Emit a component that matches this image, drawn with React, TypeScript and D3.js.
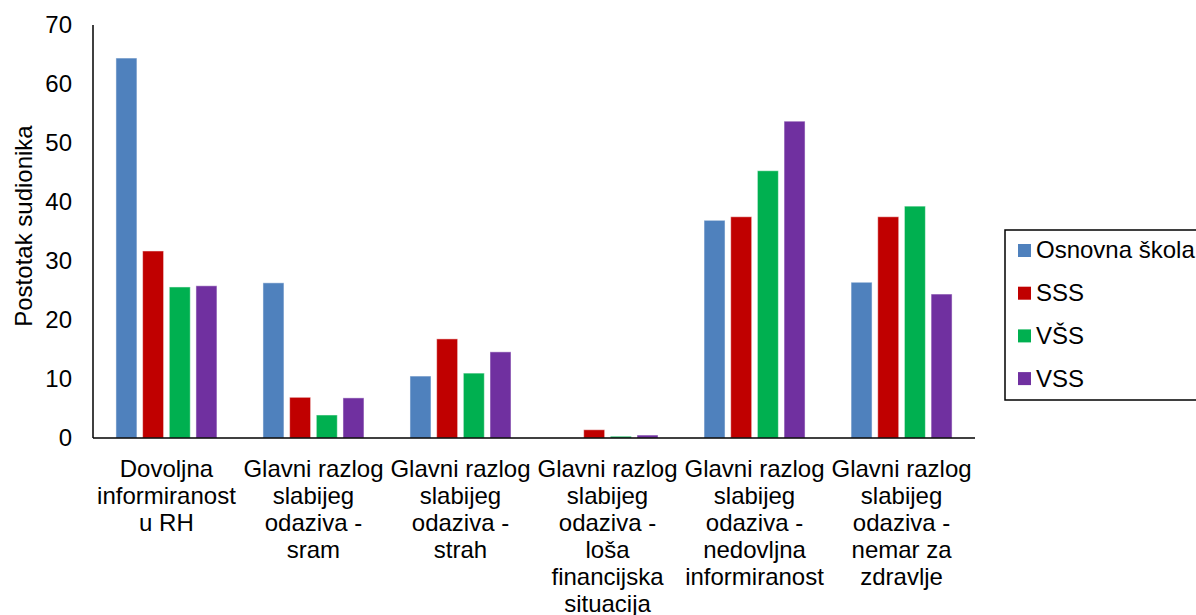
import { useEffect, useRef } from "react"
import * as d3 from "d3"

const categories = [
  ["Dovoljna", "informiranost", "u RH"],
  ["Glavni razlog", "slabijeg", "odaziva -", "sram"],
  ["Glavni razlog", "slabijeg", "odaziva -", "strah"],
  ["Glavni razlog", "slabijeg", "odaziva -", "loša", "financijska", "situacija"],
  ["Glavni razlog", "slabijeg", "odaziva -", "nedovljna", "informiranost"],
  ["Glavni razlog", "slabijeg", "odaziva -", "nemar za", "zdravlje"],
]

const seriesNames = ["Osnovna škola", "SSS", "VŠS", "VSS"]
const seriesColors = ["#4F81BD", "#C00000", "#00B050", "#7030A0"]

const osnovna = [64.4, 26.3, 10.5, 0, 36.9, 26.4]
const sss = [31.7, 6.9, 16.8, 1.4, 37.5, 37.5]
const vss1 = [25.6, 3.9, 11.0, 0.3, 45.3, 39.3]
const vss2 = [25.8, 6.8, 14.6, 0.5, 53.7, 24.4]

const yTicks = [0, 10, 20, 30, 40, 50, 60, 70]

export default function App() {
  const svgRef = useRef<SVGSVGElement>(null)

  useEffect(() => {
    if (!svgRef.current) return
    document.body.style.margin = "0"
    const svg = d3.select(svgRef.current)
    svg.selectAll("*").remove()

    const font = "'Liberation Sans', Arial, sans-serif"
    const fontSize = 24
    const left = 93
    const right = 975
    const top = 25
    const bottom = 438

    const values = [osnovna, sss, vss1, vss2]
    const idx = categories.map((_, i) => i)

    const x0 = d3.scaleBand<number>().domain(idx).range([left, right]).paddingInner(0.313).paddingOuter(0.156)
    const x1 = d3.scaleBand<number>().domain([0, 1, 2, 3]).range([0, x0.bandwidth()]).paddingInner(0.213)
    const y = d3.scaleLinear().domain([0, 70]).range([bottom, top])

    // Bars
    const groups = svg
      .append("g")
      .selectAll("g")
      .data(idx)
      .enter()
      .append("g")
      .attr("transform", (d) => `translate(${x0(d)},0)`)

    groups
      .selectAll("rect")
      .data((c) => values.map((s, si) => ({ si, v: s[c] })))
      .enter()
      .append("rect")
      .attr("x", (d) => x1(d.si)!)
      .attr("y", (d) => y(d.v))
      .attr("width", x1.bandwidth())
      .attr("height", (d) => bottom - y(d.v))
      .attr("fill", (d) => seriesColors[d.si])
      .attr("stroke", "white")
      .attr("stroke-opacity", 0.5)
      .attr("stroke-width", 1)

    // Axes
    svg.append("line").attr("x1", left).attr("x2", left).attr("y1", y(70)).attr("y2", bottom).attr("stroke", "#000").attr("stroke-width", 1.5)
    svg.append("line").attr("x1", left).attr("x2", right).attr("y1", bottom).attr("y2", bottom).attr("stroke", "#000").attr("stroke-width", 1.5)

    // Y tick labels
    svg
      .append("g")
      .selectAll("text")
      .data(yTicks)
      .enter()
      .append("text")
      .attr("x", 72)
      .attr("y", (d) => y(d))
      .attr("dy", "0.35em")
      .attr("text-anchor", "end")
      .attr("font-family", font)
      .attr("font-size", fontSize)
      .text((d) => d)

    // Y axis title
    svg
      .append("text")
      .attr("transform", `translate(32, 226) rotate(-90)`)
      .attr("text-anchor", "middle")
      .attr("font-family", font)
      .attr("font-size", fontSize)
      .text("Postotak sudionika")

    // X labels
    idx.forEach((c) => {
      const cx = x0(c)! + x0.bandwidth() / 2
      const t = svg
        .append("text")
        .attr("text-anchor", "middle")
        .attr("font-family", font)
        .attr("font-size", fontSize)
      categories[c].forEach((line, li) => {
        t.append("tspan").attr("x", cx).attr("y", 477 + li * 27).text(line)
      })
    })

    // Legend
    const legend = svg.append("g")
    legend
      .append("rect")
      .attr("x", 1005)
      .attr("y", 230)
      .attr("width", 200)
      .attr("height", 170)
      .attr("fill", "white")
      .attr("stroke", "#000")
      .attr("stroke-width", 1.5)
    seriesNames.forEach((name, i) => {
      const cy = 250 + i * 42.7
      legend.append("rect").attr("x", 1018).attr("y", cy - 6).attr("width", 13).attr("height", 13).attr("fill", seriesColors[i])
      legend
        .append("text")
        .attr("x", 1036)
        .attr("y", cy)
        .attr("dy", "0.35em")
        .attr("font-family", font)
        .attr("font-size", fontSize)
        .text(name)
    })
  }, [])

  return <svg ref={svgRef} width={1196} height={615} style={{ display: "block", background: "white" }} />
}
